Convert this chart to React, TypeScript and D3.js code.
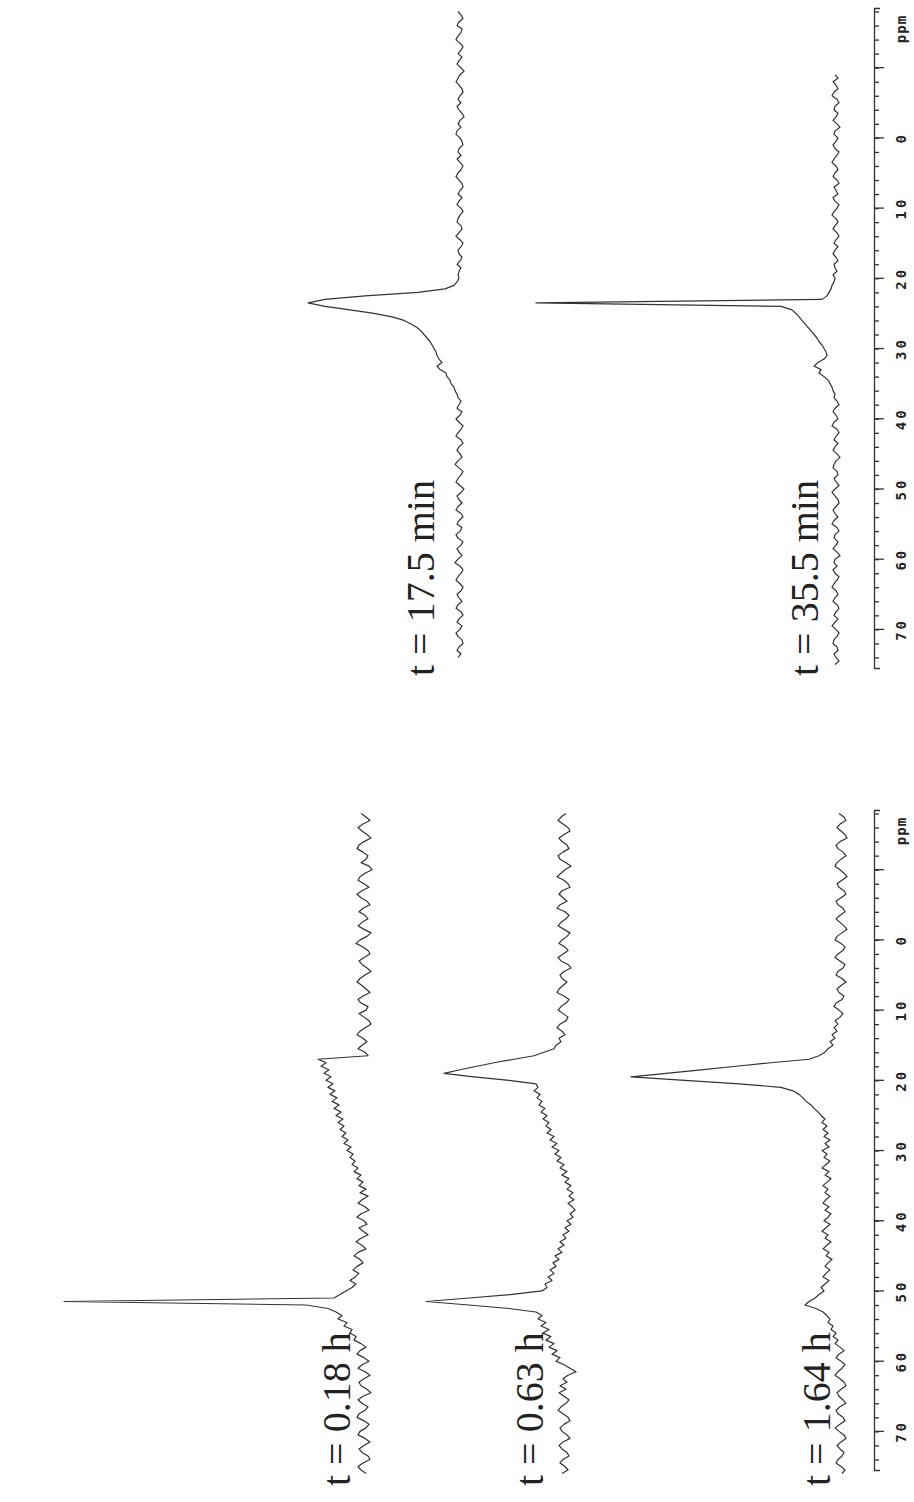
import React, { useRef, useEffect } from 'react';
import * as d3 from 'd3';

// ppm axis labels
const tickLabels = [0, 10, 20, 30, 40, 50, 60, 70];

// sampling positions of the spectra, ppm (-18 ... 76 every 0.5)
const ppmGrid = d3.range(-18, 76.25, 0.5);

// intensities at each ppmGrid position, one row = 5 ppm (null = not recorded)
const spec175min = [
  2, -1, -3, 1, 3, -2, -1, 2, 4, 0,
  -3, -1, 2, -2, 1, 3, -1, -4, 0, 2,
  4, 1, -2, -3, 0, 2, -1, 3, 1, -2,
  -4, 0, 2, -1, 3, 4, 0, -2, -3, 1,
  2, -1, 3, 0, -3, -1, 2, 4, 1, -2,
  -3, 0, 2, -2, 1, 3, -1, -3, 0, 2,
  3, -1, -2, 1, 4, 0, -3, -1, 2, 1,
  -2, 0, 3, -1, 1, 2, 1, 3, 6, 15,
  42, 95, 135, 152, 135, 110, 86, 68, 56, 49,
  43, 39, 36, 33, 30, 28, 26, 24, 23, 21,
  18, 23, 20, 14, 13, 10, 9, 6, 5, 3,
  2, -1, 1, 3, -2, 0, 4, 1, -3, -1,
  2, 4, -1, -3, 1, 3, 0, -2, 2, 5,
  1, -3, -1, 2, 4, 0, -4, -1, 3, 1,
  -2, 2, 4, -1, -3, 1, 3, -2, 0, 4,
  2, -3, -1, 3, 1, -2, 2, 5, 0, -3,
  -1, 2, 4, 0, -3, -1, 3, 1, -2, 2,
  4, -1, -3, 1, 3, -2, 0, 4, 2, -2,
  -3, 1, 3, -1, 2, null, null, null, null,
];

const spec355min = [
  null, null, null, null, null, null, null, null, null, null,
  null, null, null, null, null, null, null, null, 1, -2,
  3, 0, -2, 2, 4, -1, -3, 1, 2, -2,
  0, 3, -1, -4, 1, 2, -2, 0, 3, 1,
  -3, -1, 2, 4, 0, -2, 1, 3, -1, -3,
  2, 0, -2, 3, 1, -3, -1, 2, 4, 0,
  -2, 1, 3, -1, -3, 0, 2, -2, 1, 3,
  0, -2, 2, 1, -1, 3, 1, 2, 4, 5,
  7, 9, 14, 300, 55, 44, 40, 37, 34, 31,
  28, 25, 22, 19, 17, 14, 12, 10, 9, 12,
  18, 22, 15, 17, 12, 8, 6, 4, 3, 1,
  2, -1, -3, 1, 3, 0, -2, 2, 4, -1,
  -3, 0, 2, -2, 1, 3, -1, -4, 0, 2,
  3, -1, -2, 2, 0, -3, 1, 4, 1, -2,
  -3, 0, 3, 1, -2, 2, 4, -1, -3, 1,
  2, -2, 0, 3, -1, -4, 1, 2, -1, 3,
  1, -3, -1, 2, 4, 0, -2, 1, 3, -1,
  -3, 0, 2, -2, 1, 4, 0, -3, -1, 2,
  3, -1, -2, 2, 0, -3, 1, null, null,
];

const spec018h = [
  3, -2, -6, 1, 6, 2, -3, -7, 0, 5,
  7, 1, -4, -2, 3, -5, -8, -1, 4, 6,
  0, -5, 2, 7, 3, -3, -6, 1, 5, -1,
  -4, 2, 6, 0, -7, -3, 4, 8, 1, -4,
  -6, 0, 5, 2, -3, -7, -1, 4, 7, 2,
  -2, -6, 1, 6, 3, -4, -2, 5, 0, -5,
  -7, -1, 4, 7, 1, -3, 2, 6, -1, -4,
  46, 38, 43, 35, 40, 33, 38, 31, 36, 29,
  34, 27, 32, 25, 30, 23, 28, 21, 26, 20,
  24, 18, 22, 16, 20, 13, 17, 11, 14, 9,
  12, 6, 10, 3, 7, 1, 5, -2, 4, -4,
  2, 6, -1, -5, 3, 7, 0, -3, 5, 1,
  -4, 3, 8, 2, -2, 6, 10, 4, 1, 7,
  11, 5, 9, 14, 8, 12, 18, 24, 30, 300,
  58, 36, 28, 22, 26, 17, 20, 12, 14, 8,
  10, 3, -2, 4, 7, 0, -5, 2, 6, -1,
  -6, 0, 5, 3, -3, -7, 1, 6, 2, -4,
  -1, 5, 7, 0, -5, -2, 4, 6, -1, -6,
  0, 5, 2, -4, -6, 1, 6, 3, -2,
];

const spec063h = [
  -2, 3, 6, 1, -4, -6, 0, 5, 2, -3,
  -5, 1, 6, 4, -2, -7, -1, 3, 7, 0,
  -4, -6, 2, 5, 1, -3, 4, 7, -1, -5,
  -2, 3, 6, 0, -6, -3, 2, 5, -1, -4,
  1, 6, 3, -4, -7, 0, 4, 2, -3, 1,
  5, 7, 0, -5, -2, 3, 6, 1, -4, -2,
  4, 7, 2, -1, 5, 3, 8, 10, 20, 30,
  50, 70, 87, 104, 120, 90, 55, 28, 26, 30,
  24, 27, 22, 25, 19, 23, 17, 21, 15, 18,
  13, 17, 10, 14, 7, 12, 5, 9, 3, 7,
  0, 4, -3, 2, -5, -1, -7, -3, -9, -5,
  -10, -4, -8, -11, -6, -9, -3, -7, -1, -5,
  1, -2, 4, 0, 6, 2, 9, 5, 11, 8,
  14, 10, 16, 12, 19, 17, 22, 52, 95, 138,
  95, 55, 28, 22, 26, 18, 23, 15, 21, 13,
  18, 10, 15, 7, 12, 4, 8, 0, -6, -12,
  -4, 1, -3, 4, -2, 5, 0, -5, -2, 3,
  6, 1, -4, -6, 0, 4, 2, -3, -6, 1,
  5, 2, -3, -5, 1, 4, -1, -4, 2,
];

const spec164h = [
  2, -3, -5, 1, 4, 0, -4, -6, 1, 5,
  3, -2, -5, 0, 4, 6, 1, -3, -6, -1,
  4, 2, -3, -5, 0, 5, 3, -2, -4, 1,
  5, 1, -3, -6, -1, 4, 6, 0, -4, -2,
  3, 6, 1, -4, -2, 3, 5, -1, -5, 0,
  4, 2, -3, -1, 5, 7, 2, -2, 1, 6,
  3, 7, 4, 9, 6, 11, 8, 13, 16, 22,
  32, 70, 105, 140, 175, 210, 156, 102, 60, 48,
  42, 38, 35, 30, 27, 23, 20, 16, 19, 14,
  18, 13, 17, 11, 16, 12, 19, 14, 17, 11,
  15, 19, 12, 16, 10, 14, 18, 13, 16, 11,
  15, 18, 12, 16, 10, 13, 17, 11, 15, 19,
  13, 16, 10, 14, 18, 12, 15, 9, 13, 16,
  11, 15, 18, 12, 16, 20, 17, 22, 26, 32,
  36, 25, 18, 14, 11, 13, 8, 10, 5, 8,
  3, 6, 1, -3, 2, 5, 0, -4, -1, 3,
  6, 1, -3, -5, 0, 4, 2, -2, -5, 1,
  5, 3, -2, -4, 1, 6, 2, -3, -5, 0,
  4, 1, -3, -1, 3, 5, 0, -4, -1,
];

const panels = [
  {
    top: 8, bottom: 668, labelY: 676,
    traces: [
      { values: spec175min, base: 460, label: 't = 17.5 min', labelX: 434 },
      { values: spec355min, base: 836, label: 't = 35.5 min', labelX: 818 },
    ],
  },
  {
    top: 810, bottom: 1470, labelY: 1486,
    traces: [
      { values: spec018h, base: 364, label: 't = 0.18 h', labelX: 350 },
      { values: spec063h, base: 564, label: 't = 0.63 h', labelX: 543 },
      { values: spec164h, base: 841, label: 't = 1.64 h', labelX: 830 },
    ],
  },
];

const App = () => {
  const svgRef = useRef(null);

  useEffect(() => {
    const svg = d3.select(svgRef.current);
    svg.selectAll('*').remove();

    const axisX = 874;
    const intensity = d3.scaleLinear().domain([0, 300]).range([0, 300]);

    panels.forEach((p) => {
      const yScale = d3.scaleLinear().domain([-18.5, 75.5]).range([p.top, p.bottom]);
      const g = svg.append('g');

      // minor ticks every 2 ppm
      g.append('g')
        .attr('transform', `translate(${axisX},0)`)
        .call(d3.axisRight(yScale).tickValues(d3.range(-18, 76, 2)).tickSize(5).tickSizeOuter(6).tickFormat(() => ''))
        .call((a) => a.selectAll('path,line').attr('stroke', '#333').attr('stroke-width', 1.3));

      // major ticks every 10 ppm
      g.append('g')
        .selectAll('line')
        .data(d3.range(-10, 80, 10))
        .enter()
        .append('line')
        .attr('x1', axisX)
        .attr('x2', axisX + 10)
        .attr('y1', (d) => yScale(d))
        .attr('y2', (d) => yScale(d))
        .attr('stroke', '#333')
        .attr('stroke-width', 1.3);

      g.append('g')
        .selectAll('text')
        .data(tickLabels)
        .enter()
        .append('text')
        .attr('transform', (d) => `translate(${axisX + 27},${yScale(d)}) rotate(-90)`)
        .attr('text-anchor', 'middle')
        .attr('dominant-baseline', 'central')
        .attr('font-family', 'DejaVu Sans Mono')
        .attr('font-weight', 'bold')
        .attr('font-size', 14)
        .attr('letter-spacing', 3)
        .attr('fill', '#222')
        .text((d) => d);

      g.append('text')
        .attr('transform', `translate(${axisX + 27},${yScale(-15.5)}) rotate(-90)`)
        .attr('text-anchor', 'middle')
        .attr('dominant-baseline', 'central')
        .attr('font-family', 'DejaVu Sans Mono')
        .attr('font-weight', 'bold')
        .attr('font-size', 14)
        .attr('letter-spacing', 1)
        .attr('fill', '#222')
        .text('ppm');

      p.traces.forEach((t) => {
        const pts = ppmGrid.map((ppm, i) => [ppm, t.values[i]]);
        const line = d3
          .line()
          .defined((d) => d[1] !== null && d[1] !== undefined)
          .x((d) => t.base - intensity(d[1]))
          .y((d) => yScale(d[0]));

        g.append('path')
          .datum(pts)
          .attr('fill', 'none')
          .attr('stroke', '#333')
          .attr('stroke-width', 1.2)
          .attr('stroke-linejoin', 'round')
          .attr('d', line);

        g.append('text')
          .attr('transform', `translate(${t.labelX},${p.labelY}) rotate(-90)`)
          .attr('font-family', 'Liberation Serif')
          .attr('font-size', 40)
          .attr('fill', '#222')
          .text(t.label);
      });
    });
  }, []);

  return (
    <div>
      <svg ref={svgRef} width={914} height={1502} style={{ position: 'absolute', left: 0, top: 0, background: '#fff' }} />
    </div>
  );
};

export default App;
